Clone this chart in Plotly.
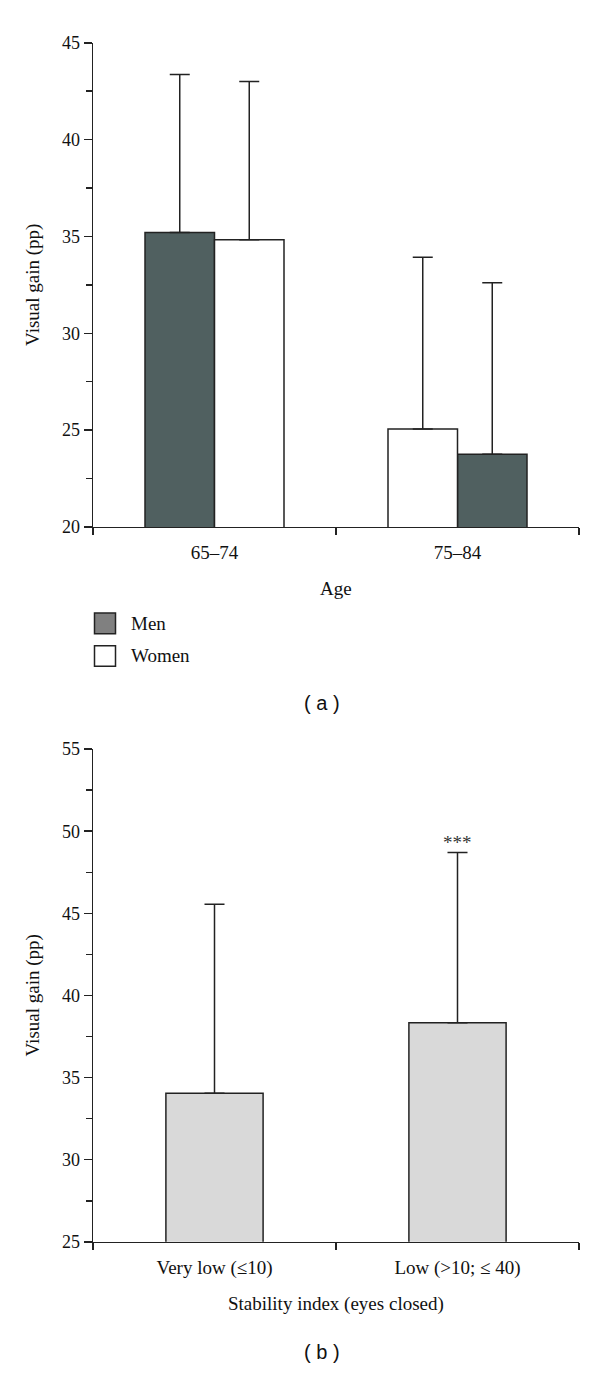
import plotly.graph_objects as go

# ---- data ----
age_groups = ["65–74", "75–84"]
men_gain = [35.2, 23.75]
men_sd = [8.17, 8.86]
women_gain = [34.83, 25.06]
women_sd = [8.17, 8.87]

stab_groups = ["Very low (≤10)", "Low (>10; ≤ 40)"]
stab_gain = [34.05, 38.34]
stab_sd = [11.5, 10.36]
stab_sig = ["", "***"]

ya_ticks = [20, 25, 30, 35, 40, 45]
yb_ticks = [25, 30, 35, 40, 45, 50, 55]

# ---- style ----
SERIF = "Liberation Serif"
SANS = "Liberation Sans"
AX = "#222222"
DARK = "#506060"
TXT = "#111111"
FS = 19
W = 600
H = 1376

fig = go.Figure()

xidx = list(range(len(age_groups)))
bw_a = 0.286
fig.add_trace(go.Bar(
    x=xidx, y=men_gain, name="Men", width=bw_a, offset=[-bw_a, 0],
    marker=dict(color=DARK, line=dict(color=AX, width=1.5)),
    error_y=dict(type="data", array=men_sd, arrayminus=[0, 0], symmetric=False,
                 color=AX, thickness=1.5, width=10),
    xaxis="x", yaxis="y", showlegend=False, hoverinfo="skip",
))
fig.add_trace(go.Bar(
    x=xidx, y=women_gain, name="Women", width=bw_a, offset=[0, -bw_a],
    marker=dict(color="white", line=dict(color=AX, width=1.5)),
    error_y=dict(type="data", array=women_sd, arrayminus=[0, 0], symmetric=False,
                 color=AX, thickness=1.5, width=10),
    xaxis="x", yaxis="y", showlegend=False, hoverinfo="skip",
))

xidx_b = list(range(len(stab_groups)))
fig.add_trace(go.Bar(
    x=xidx_b, y=stab_gain, width=0.40,
    marker=dict(color="#d9d9d9", line=dict(color=AX, width=1.5)),
    error_y=dict(type="data", array=stab_sd, arrayminus=[0, 0], symmetric=False,
                 color=AX, thickness=1.5, width=10),
    xaxis="x2", yaxis="y2", showlegend=False, hoverinfo="skip",
))

xdom = [93 / W, 579 / W]
ya_dom = [1 - 524.5 / H, 1 - 33.3 / H]
yb_dom = [1 - 1250 / H, 1 - 750 / H]

def xaxis_cfg(labels, anchor):
    return dict(
        domain=xdom, anchor=anchor, range=[-0.5, len(labels) - 0.5],
        tickmode="array", tickvals=list(range(len(labels))), ticktext=labels,
        ticks="outside", ticklen=8, tickcolor="rgba(0,0,0,0)", tickwidth=0,
        showline=True, linecolor=AX, linewidth=1.5, showgrid=False, zeroline=False,
        tickfont=dict(family=SERIF, size=FS, color=TXT),
        minor=dict(tickmode="array",
                   tickvals=[i - 0.5 for i in range(len(labels) + 1)],
                   ticks="outside", ticklen=7, tickwidth=1.5, tickcolor=AX,
                   showgrid=False),
        fixedrange=True,
    )

def yaxis_cfg(ticks, anchor, dom):
    return dict(
        domain=dom, anchor=anchor, range=[ticks[0], ticks[-1]],
        tickmode="array", tickvals=ticks,
        ticks="outside", ticklen=8, tickwidth=1.5, tickcolor=AX,
        showline=True, linecolor=AX, linewidth=1.5, showgrid=False, zeroline=False,
        tickfont=dict(family=SERIF, size=18, color=TXT),
        minor=dict(dtick=2.5, tick0=ticks[0], ticks="outside", ticklen=6,
                   tickwidth=1.5, tickcolor=AX, showgrid=False),
        fixedrange=True,
    )

def ann(text, x, y, **kw):
    d = dict(text=text, x=x / W, y=1 - y / H, xref="paper", yref="paper",
             showarrow=False, xanchor="center", yanchor="middle",
             font=dict(family=SERIF, size=FS, color=TXT))
    d.update(kw)
    return d

annotations = [
    ann("Visual gain (pp)", 33, 279, textangle=-90),
    ann("Age", 336, 587),
    ann("Men", 129, 623, xanchor="left"),
    ann("Women", 129, 655, xanchor="left"),
    ann("( a )", 322, 703, font=dict(family=SANS, size=20, color=TXT)),
    ann("Visual gain (pp)", 33, 1000, textangle=-90),
    ann("Stability index (eyes closed)", 336, 1313),
    ann("( b )", 322, 1362, font=dict(family=SANS, size=20, color=TXT)),
]
for i, s in enumerate(stab_sig):
    if s:
        annotations.append(dict(
            text=s, x=i, y=stab_gain[i] + stab_sd[i], xref="x2", yref="y2",
            yanchor="bottom", yshift=-2, showarrow=False,
            font=dict(family=SERIF, size=FS, color="#333")))

shapes = [
    dict(type="rect", xref="paper", yref="paper", x0=94.5 / W, x1=115.5 / W,
         y0=1 - 633 / H, y1=1 - 612 / H, fillcolor="#808080",
         line=dict(color=AX, width=1.5)),
    dict(type="rect", xref="paper", yref="paper", x0=94.5 / W, x1=115.5 / W,
         y0=1 - 666 / H, y1=1 - 645 / H, fillcolor="white",
         line=dict(color=AX, width=1.5)),
]

fig.update_layout(
    width=W, height=H, margin=dict(l=0, r=0, t=0, b=0),
    paper_bgcolor="white", plot_bgcolor="white",
    barmode="overlay", showlegend=False, hovermode=False,
    xaxis=xaxis_cfg(age_groups, "y"),
    yaxis=yaxis_cfg(ya_ticks, "x", ya_dom),
    xaxis2=xaxis_cfg(stab_groups, "y2"),
    yaxis2=yaxis_cfg(yb_ticks, "x2", yb_dom),
    annotations=annotations, shapes=shapes,
)

fig.write_html("out.html", config={"displayModeBar": False, "staticPlot": True},
               post_script="document.body.style.margin='0';document.body.style.overflow='hidden';")
